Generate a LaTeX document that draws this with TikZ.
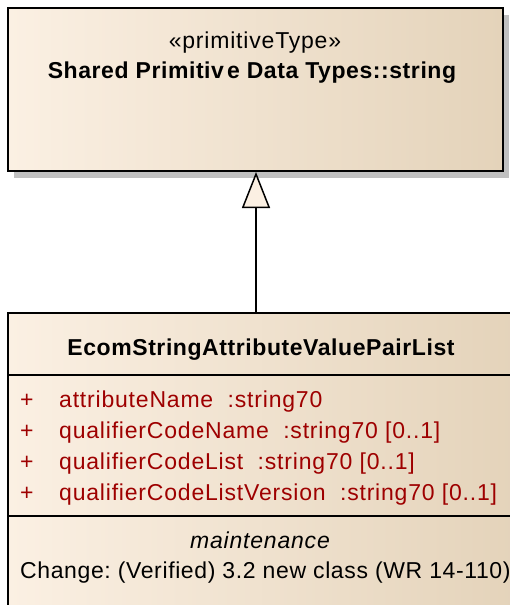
\documentclass[tikz,border=0pt]{standalone}
\usepackage{fontspec}
\setmainfont{Liberation Sans}
\usetikzlibrary{arrows.meta, shadows}
\frenchspacing

\definecolor{umlcream}{RGB}{251,240,227}
\definecolor{umltan}{RGB}{228,211,186}
\definecolor{umlred}{RGB}{158,0,0}
\definecolor{umlshadow}{RGB}{192,192,192}

\begin{document}
\begin{tikzpicture}[
    x=1pt, y=-1pt,
    classbox/.style={rectangle, draw=black, line width=1.6pt, anchor=north west,
      left color=umlcream, middle color=umlcream, right color=umltan},
    boxshadow/.style={drop shadow={shadow xshift=6pt, shadow yshift=-7pt,
      fill=umlshadow, opacity=1}},
    sepline/.style={line width=1.6pt},
    attr/.style={anchor=base west, text=umlred},
    boldtext/.style={font=\fontsize{23}{27}\selectfont\bfseries\addfontfeature{LetterSpace=2.5}},
    gen/.style={line width=1.5pt, -{Triangle[open, fill=umlcream, length=36pt, width=28pt]}},
    every node/.style={inner sep=0pt, font=\fontsize{23}{27}\selectfont\addfontfeature{LetterSpace=3.5}}
  ]
  \useasboundingbox (0,0) rectangle (510,605);
  \clip (0,0) rectangle (510,605);

  % Classes
  \node[classbox, boxshadow, minimum width=495pt, minimum height=163pt] (stringtype) at (7,7) {};
  \node[classbox, minimum width=508pt, minimum height=320pt] (pairlist) at (7,312) {};

  % Compartments
  \draw[sepline] (pairlist.west |- 0,375) -- (pairlist.east |- 0,375);
  \draw[sepline] (pairlist.west |- 0,516) -- (pairlist.east |- 0,516);

  % Texts of the primitive type
  \node[anchor=base] (stereo) at (255,48) {«primitiveType»};
  \node[anchor=base, boldtext] (stringname) at (252,78)
    {Shared Primitiv\kern3pt e Data Types::string};

  % Texts of the class
  \node[anchor=base, boldtext] (classname) at (261,355)
    {EcomStringAttributeValuePairList};
  \node[attr] (plus1) at (20,407) {+};
  \node[attr] (attr1) at (59,407) {attributeName\ \ :string70};
  \node[attr] (plus2) at (20,438) {+};
  \node[attr] (attr2) at (59,438) {qualifierCodeName\ \ :string70 [0..1]};
  \node[attr] (plus3) at (20,469) {+};
  \node[attr] (attr3) at (59,469) {qualifierCodeList\ \ :string70 [0..1]};
  \node[attr] (plus4) at (20,500) {+};
  \node[attr] (attr4) at (59,500) {qualifierCodeListVersion\ \ :string70 [0..1]};
  \node[anchor=base, font=\fontsize{23}{27}\selectfont\itshape\addfontfeature{LetterSpace=3.5}] (tagname) at (260,548) {maintenance};
  \node[anchor=base west, font=\fontsize{23}{27}\selectfont\addfontfeature{LetterSpace=2.7}] (tagvalue) at (20,578)
    {Change: (Verified) 3.2 new class (WR 14-110)};

  % Generalization
  \coordinate (genfoot) at (256,312);
  \coordinate (gentip) at (256,172);
  \draw[gen] (genfoot) -- (gentip);
\end{tikzpicture}
\end{document}
